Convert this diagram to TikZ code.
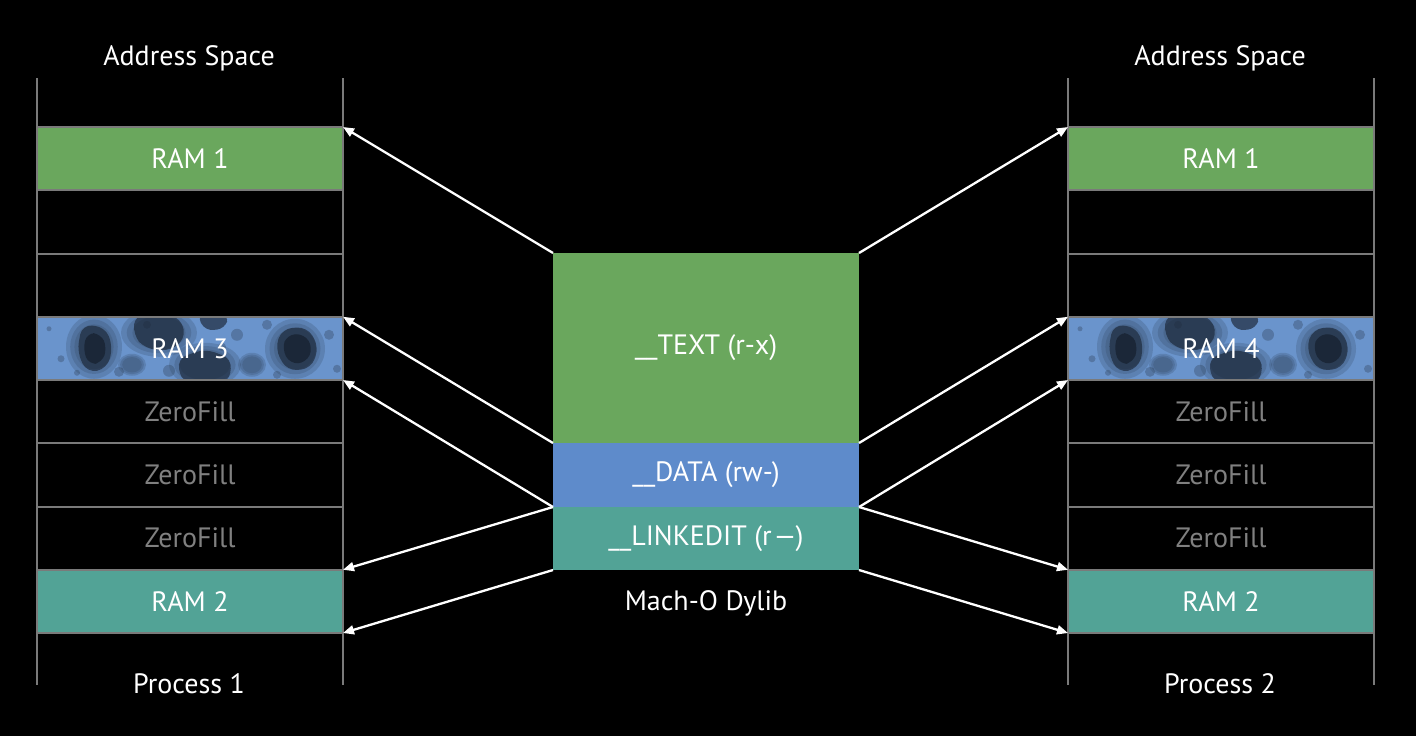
\documentclass[tikz,border=0pt]{standalone}
\usepackage{fontspec}
\setmainfont{PT Sans}
\usetikzlibrary{arrows.meta}
\definecolor{ramgreen}{HTML}{6AA75D}
\definecolor{ramblue}{HTML}{5E8BCB}
\definecolor{texblue}{HTML}{6A94CC}
\definecolor{ramteal}{HTML}{52A396}
\definecolor{gridgray}{HTML}{7A7A7A}
\definecolor{zfgray}{HTML}{808080}
\definecolor{blobdark}{HTML}{121A26}
\definecolor{blobmid}{HTML}{2E4058}
\tikzset{
  haze/.style={fill=blobmid, opacity=0.22},
  speck/.style={fill=blobmid, opacity=0.35},
  core/.style={fill=blobdark, opacity=0.55, rounded corners=5},
  corein/.style={fill=blobdark, opacity=0.6, rounded corners=4}
}
\newcommand\blobtexture{%
  \fill[texblue] (0,0) rectangle (306,64);
  % soft halos
  \foreach \r in {1.0,0.85,0.7} {
    \fill[haze] (57,30) ellipse [x radius=28*\r, y radius=32*\r];
    \fill[haze] (122,16) ellipse [x radius=38*\r, y radius=24*\r];
    \fill[haze] (168,48) ellipse [x radius=36*\r, y radius=22*\r];
    \fill[haze] (258,32) ellipse [x radius=30*\r, y radius=30*\r];
    \fill[haze] (215,48) ellipse [x radius=14*\r, y radius=12*\r];
    \fill[haze] (95,48) ellipse [x radius=14*\r, y radius=11*\r];
  }
  % specks
  \fill[speck] (82,55) circle [radius=5];
  \fill[speck] (200,18) circle [radius=6];
  \fill[speck] (292,18) circle [radius=5];
  \fill[speck] (24,42) circle [radius=3.5];
  \fill[speck] (300,52) circle [radius=4];
  \fill[speck] (132,54) circle [radius=6];
  \fill[speck] (230,8) circle [radius=5];
  \fill[speck] (12,12) circle [radius=2.5];
  \fill[speck] (185,30) circle [radius=4];
  \fill[speck] (240,58) circle [radius=4];
  \fill[speck] (110,8) circle [radius=4];
  \fill[speck] (40,56) circle [radius=3];
  % dark cores
  \fill[core] (45,8) -- (68,10) -- (76,30) -- (70,52) -- (50,56) -- (40,35) -- cycle;
  \fill[corein] (50,16) -- (64,17) -- (70,31) -- (65,46) -- (52,48) -- (46,33) -- cycle;
  \fill[core] (98,-2) -- (140,-2) -- (150,18) -- (135,34) -- (108,32) -- (96,18) -- cycle;
  \fill[corein] (160,-2) -- (192,-2) -- (188,12) -- (168,14) -- cycle;
  \fill[core] (140,42) -- (168,32) -- (195,42) -- (192,66) -- (145,66) -- cycle;
  \fill[core] (245,12) -- (270,10) -- (282,30) -- (274,52) -- (250,54) -- (238,32) -- cycle;
  \fill[corein] (250,18) -- (267,17) -- (276,31) -- (269,46) -- (253,47) -- (245,32) -- cycle;
}
\begin{document}
\begin{tikzpicture}[x=0.5pt, y=-0.5pt,
  lbl/.style={text=white, font=\fontsize{14}{16}\selectfont},
  slot/.style={draw=gridgray, line width=1pt, minimum width=153pt, minimum height=31.625pt,
    inner sep=0pt, outer sep=0pt, anchor=north west, lbl},
  zf/.style={slot, text=zfgray},
  seg/.style={minimum width=153pt, inner sep=0pt, outer sep=0pt, anchor=north west, lbl},
  rail/.style={draw=gridgray, line width=1pt},
  arr/.style={draw=white, line width=1.15pt, -{Triangle[length=5.5pt, width=4.5pt]}}]
\fill[black] (0,0) rectangle (1416,736);
\useasboundingbox (0,0) rectangle (1416,736);

% textures
\begin{scope}[shift={(37,316.75)}]
  \clip (0,0) rectangle (306,63.25);
  \blobtexture
\end{scope}
\begin{scope}[shift={(1068,316.75)}]
  \clip (0,0) rectangle (306,63.25);
  \blobtexture
\end{scope}

% rails
\coordinate (lt1) at (37,78);  \coordinate (lb1) at (37,685);
\coordinate (lt2) at (343,78); \coordinate (lb2) at (343,685);
\coordinate (rt1) at (1068,78);  \coordinate (rb1) at (1068,685);
\coordinate (rt2) at (1374,78);  \coordinate (rb2) at (1374,685);
\draw[rail] (lt1) -- (lb1);
\draw[rail] (lt2) -- (lb2);
\draw[rail] (rt1) -- (rb1);
\draw[rail] (rt2) -- (rb2);

% left process
\node[slot, fill=ramgreen] (L1) at (37,127) {RAM 1};
\node[slot] (L2) at (37,190.25) {};
\node[slot] (L3) at (37,253.5) {};
\node[slot] (L4) at (37,316.75) {RAM 3};
\node[zf] (L5) at (37,380) {ZeroFill};
\node[zf] (L6) at (37,443.25) {ZeroFill};
\node[zf] (L7) at (37,506.5) {ZeroFill};
\node[slot, fill=ramteal] (L8) at (37,569.75) {RAM 2};

% right process
\node[slot, fill=ramgreen] (R1) at (1068,127) {RAM 1};
\node[slot] (R2) at (1068,190.25) {};
\node[slot] (R3) at (1068,253.5) {};
\node[slot] (R4) at (1068,316.75) {RAM 4};
\node[zf] (R5) at (1068,380) {ZeroFill};
\node[zf] (R6) at (1068,443.25) {ZeroFill};
\node[zf] (R7) at (1068,506.5) {ZeroFill};
\node[slot, fill=ramteal] (R8) at (1068,569.75) {RAM 2};

% titles
\node[lbl] (tl) at (189,58) {Address Space};
\node[lbl] (tr) at (1220,58) {Address Space};
\node[lbl] (pl) at (189,684) {Process 1};
\node[lbl] (pr) at (1220,684) {Process 2};

% dylib
\node[seg, fill=ramgreen, minimum height=95pt] (text) at (553,253) {\_\_TEXT (r-x)};
\node[seg, fill=ramblue, minimum height=32pt] (data) at (553,443) {\_\_DATA (rw-)};
\node[seg, fill=ramteal, minimum height=31.5pt] (link) at (553,507) {\_\_LINKEDIT (r\kern1pt—)};
\node[lbl] (dylib) at (706,603) {Mach-O Dylib};

% arrows left
\draw[arr] (text.north west) -- (L1.north east);
\draw[arr] (text.south west) -- (L4.north east);
\draw[arr] (data.south west) -- (L4.south east);
\draw[arr] (link.north west) -- (L8.north east);
\draw[arr] (link.south west) -- (L8.south east);
% arrows right
\draw[arr] (text.north east) -- (R1.north west);
\draw[arr] (text.south east) -- (R4.north west);
\draw[arr] (data.south east) -- (R4.south west);
\draw[arr] (link.north east) -- (R8.north west);
\draw[arr] (link.south east) -- (R8.south west);
\end{tikzpicture}
\end{document}
